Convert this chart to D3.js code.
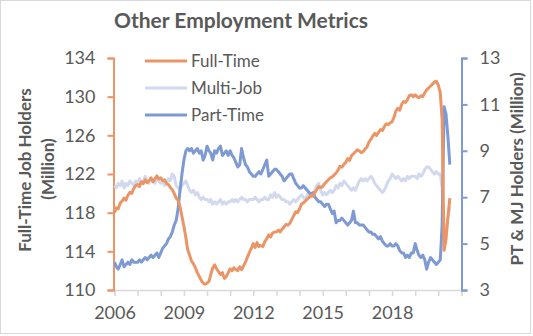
<!DOCTYPE html>
<html><head><meta charset="utf-8">
<script src="https://cdn.jsdelivr.net/npm/d3@7"></script>
<style>
html,body{margin:0;padding:0;background:#fff;}
svg text{font-family:Lato,"Open Sans",sans-serif;fill:#595959;}
</style></head>
<body><svg id="c" width="533" height="336"></svg>
<script>
// Monthly data, Jan 2006 .. Jul 2020
const startYear = 2006;
const fullTime = [
118.0,118.5,118.4,119.0,119.2,119.5,119.3,119.8,120.1,120.0,120.5,120.8,
120.9,120.7,121.2,121.0,121.4,121.1,121.3,121.6,121.2,121.5,121.8,121.5,
121.6,121.3,121.4,121.0,120.9,120.6,120.4,120.0,119.5,119.3,118.6,117.6,
116.6,115.4,114.2,113.6,113.0,112.7,112.3,111.8,111.4,111.0,110.7,110.6,
110.7,110.9,111.6,112.3,112.6,112.2,111.9,111.6,111.8,111.2,111.4,111.8,
112.2,112.0,112.3,112.1,112.0,112.4,112.1,112.5,112.9,113.4,113.9,114.3,
114.8,114.4,114.9,114.5,114.6,114.5,115.0,115.3,115.7,115.5,115.9,116.0,
116.0,116.2,116.0,116.3,116.5,116.8,116.7,116.9,117.3,117.7,118.1,118.0,
118.4,118.9,119.0,119.2,119.4,119.6,119.8,119.7,120.1,120.4,120.7,120.6,
120.7,121.0,121.2,121.4,121.6,121.7,121.9,122.1,122.4,122.8,122.7,123.0,
123.2,123.6,123.4,123.9,124.1,124.3,124.5,124.4,124.2,124.3,124.6,124.8,
125.3,125.6,125.9,126.2,126.0,126.3,126.6,126.5,126.9,127.2,127.1,127.3,
127.4,127.9,128.5,128.8,128.6,129.2,129.5,129.4,129.7,130.1,130.2,130.0,
130.2,130.0,129.9,130.1,130.0,130.4,130.7,130.9,131.1,131.3,131.5,131.6,
131.2,130.4,127.6,114.1,115.2,117.6,119.5];
const multiJob = [
7.5,7.4,7.6,7.5,7.7,7.4,7.6,7.5,7.7,7.6,7.5,7.7,
7.6,7.8,7.6,7.7,7.9,7.7,7.6,7.8,7.7,7.6,7.8,7.7,
7.6,7.7,7.5,7.6,7.8,7.7,8.0,7.9,7.5,7.4,7.3,7.5,
7.6,7.7,7.5,7.3,7.2,7.3,7.1,7.2,7.0,6.9,7.0,6.9,
6.9,6.8,6.9,6.7,6.8,6.7,6.8,6.9,6.7,6.8,6.7,6.8,
6.8,6.9,6.8,6.9,6.8,6.9,7.0,6.9,6.9,6.8,6.9,6.9,
6.9,7.0,6.9,6.8,6.9,6.9,7.0,6.9,6.9,7.1,7.0,7.2,
7.0,7.1,7.0,6.9,6.9,6.8,6.8,6.7,6.8,6.9,6.8,6.9,
7.0,7.1,7.0,6.9,7.1,7.2,7.0,7.1,7.3,7.5,7.6,7.3,
7.1,7.2,7.1,7.2,7.3,7.2,7.3,7.5,7.4,7.6,7.5,7.7,
7.6,7.5,7.4,7.3,7.4,7.3,7.5,7.7,7.8,7.7,7.8,7.7,
7.8,7.9,7.8,7.6,7.5,7.4,7.3,7.2,7.3,7.5,7.7,7.8,
8.0,7.9,7.8,7.9,7.8,7.7,7.8,7.7,7.9,7.8,7.9,7.9,
7.9,7.8,8.0,7.9,8.0,8.2,8.3,8.3,8.2,8.1,8.0,8.1,
8.0,8.0,7.4,5.4,5.6,6.1,6.6];
const partTime = [
4.2,4.0,3.9,4.1,4.3,4.0,4.1,4.2,4.1,4.3,4.2,4.2,
4.2,4.3,4.2,4.3,4.4,4.3,4.4,4.5,4.4,4.5,4.6,4.4,
4.6,4.8,4.9,5.0,5.2,5.3,5.5,5.8,6.0,6.5,7.3,8.0,
8.6,9.0,9.1,9.0,9.1,8.9,9.0,9.1,8.9,9.0,8.6,8.8,
9.2,9.0,8.9,8.6,9.0,8.9,9.1,9.2,8.8,8.9,9.0,8.8,
9.0,8.8,8.7,8.5,8.3,8.4,9.1,8.7,8.4,8.3,8.1,8.0,
7.9,7.9,8.0,8.1,8.0,8.2,8.4,8.6,7.9,8.0,8.1,8.2,
8.2,8.1,8.0,7.9,7.7,7.8,7.9,8.0,8.0,7.8,7.6,7.5,
7.4,7.4,7.5,7.4,7.3,7.2,7.1,7.2,7.0,6.9,6.8,6.8,
6.7,6.6,6.7,6.7,6.5,6.3,6.4,5.9,6.0,6.0,6.1,6.0,
5.9,5.8,5.9,6.0,6.4,5.9,5.9,5.8,5.8,5.8,5.7,5.6,
5.5,5.5,5.4,5.4,5.3,5.2,5.3,5.1,5.0,4.9,4.9,5.0,
4.9,4.9,5.0,4.9,4.7,4.6,4.6,4.4,4.5,4.4,4.6,4.6,
5.0,4.7,4.5,4.4,4.5,4.3,3.9,4.2,4.4,4.3,4.2,4.1,
4.2,4.3,5.8,10.9,10.6,9.6,8.4];
const leftTicks = [110,114,118,122,126,130,134];
const rightTicks = [3,5,7,9,11,13];
const yearLabels = ["2006","2009","2012","2015","2018"];
const seriesNames = ["Full-Time","Multi-Job","Part-Time"];
const colors = {"Full-Time":"#EB9566","Multi-Job":"#D2D9EE","Part-Time":"#7E9AD3"};

const dates = fullTime.map((_, i) => new Date(startYear, i, 1));
const svg = d3.select("#c");

// chart border
svg.append("rect").attr("x",0.5).attr("y",0.5).attr("width",530).attr("height",333)
  .attr("fill","#fff").attr("stroke","#d9d9d9");

const x = d3.scaleTime().domain([new Date(2006,0,1), new Date(2021,0,1)]).range([114.5, 461.5]);
const yL = d3.scaleLinear().domain([110,134]).range([290,58]);
const yR = d3.scaleLinear().domain([3,13]).range([290,58]);

// x axis
const xAxis = d3.axisBottom(x).ticks(d3.timeYear.every(1)).tickSize(6).tickFormat(d => {
  const s = String(d.getFullYear()); return yearLabels.includes(s) ? s : "";
});
const gx = svg.append("g").attr("transform","translate(0,290)").call(xAxis);
gx.select(".domain").attr("stroke","#d9d9d9").attr("stroke-width",1.5);
gx.selectAll(".tick line").attr("stroke","#d9d9d9").attr("stroke-width",1.5);
gx.selectAll(".tick text").attr("font-size",18).attr("dy","1.1em").attr("fill","#595959")
  .style("font-family","Lato");

// left axis
const gl = svg.append("g").attr("transform","translate(113.5,0)")
  .call(d3.axisLeft(yL).tickValues(leftTicks).tickSize(6).tickPadding(12));
gl.select(".domain").attr("stroke",colors["Full-Time"]).attr("stroke-width",2);
gl.selectAll(".tick line").attr("stroke",colors["Full-Time"]).attr("stroke-width",2);
gl.selectAll(".tick text").attr("font-size",18).attr("fill","#595959").style("font-family","Lato");

// right axis
const gr = svg.append("g").attr("transform","translate(461.5,0)")
  .call(d3.axisRight(yR).tickValues(rightTicks).tickSize(6).tickPadding(12));
gr.select(".domain").attr("stroke",colors["Part-Time"]).attr("stroke-width",2);
gr.selectAll(".tick line").attr("stroke",colors["Part-Time"]).attr("stroke-width",2);
gr.selectAll(".tick text").attr("font-size",18).attr("fill","#595959").style("font-family","Lato");

// lines
const lineL = d3.line().x((d,i)=>x(dates[i])).y(d=>yL(d));
const lineR = d3.line().x((d,i)=>x(dates[i])).y(d=>yR(d));
svg.append("path").attr("d",lineR(multiJob)).attr("fill","none")
  .attr("stroke",colors["Multi-Job"]).attr("stroke-width",3).attr("stroke-linejoin","round");
svg.append("path").attr("d",lineR(partTime)).attr("fill","none")
  .attr("stroke",colors["Part-Time"]).attr("stroke-width",3).attr("stroke-linejoin","round");
svg.append("path").attr("d",lineL(fullTime)).attr("fill","none")
  .attr("stroke",colors["Full-Time"]).attr("stroke-width",3).attr("stroke-linejoin","round");

// title
svg.append("text").attr("x",241).attr("y",28).attr("text-anchor","middle")
  .attr("font-size",21).attr("font-weight","bold").text("Other Employment Metrics");

// axis titles
svg.append("text").attr("transform","translate(31,170) rotate(-90)").attr("text-anchor","middle")
  .attr("font-size",17).attr("font-weight","bold").text("Full-Time Job Holders");
svg.append("text").attr("transform","translate(54,169) rotate(-90)").attr("text-anchor","middle")
  .attr("font-size",17).attr("font-weight","bold").text("(Million)");
svg.append("text").attr("transform","translate(523,169) rotate(-90)").attr("text-anchor","middle")
  .attr("font-size",17).attr("font-weight","bold").text("PT & MJ Holders (Million)");

// legend
const lg = svg.append("g");
seriesNames.forEach((n,i)=>{
  const yy = 61 + i*27;
  lg.append("line").attr("x1",145).attr("x2",187).attr("y1",yy).attr("y2",yy)
    .attr("stroke",colors[n]).attr("stroke-width",3);
  lg.append("text").attr("x",191).attr("y",yy).attr("dy","0.35em")
    .attr("font-size",17).text(n);
});
</script></body></html>
